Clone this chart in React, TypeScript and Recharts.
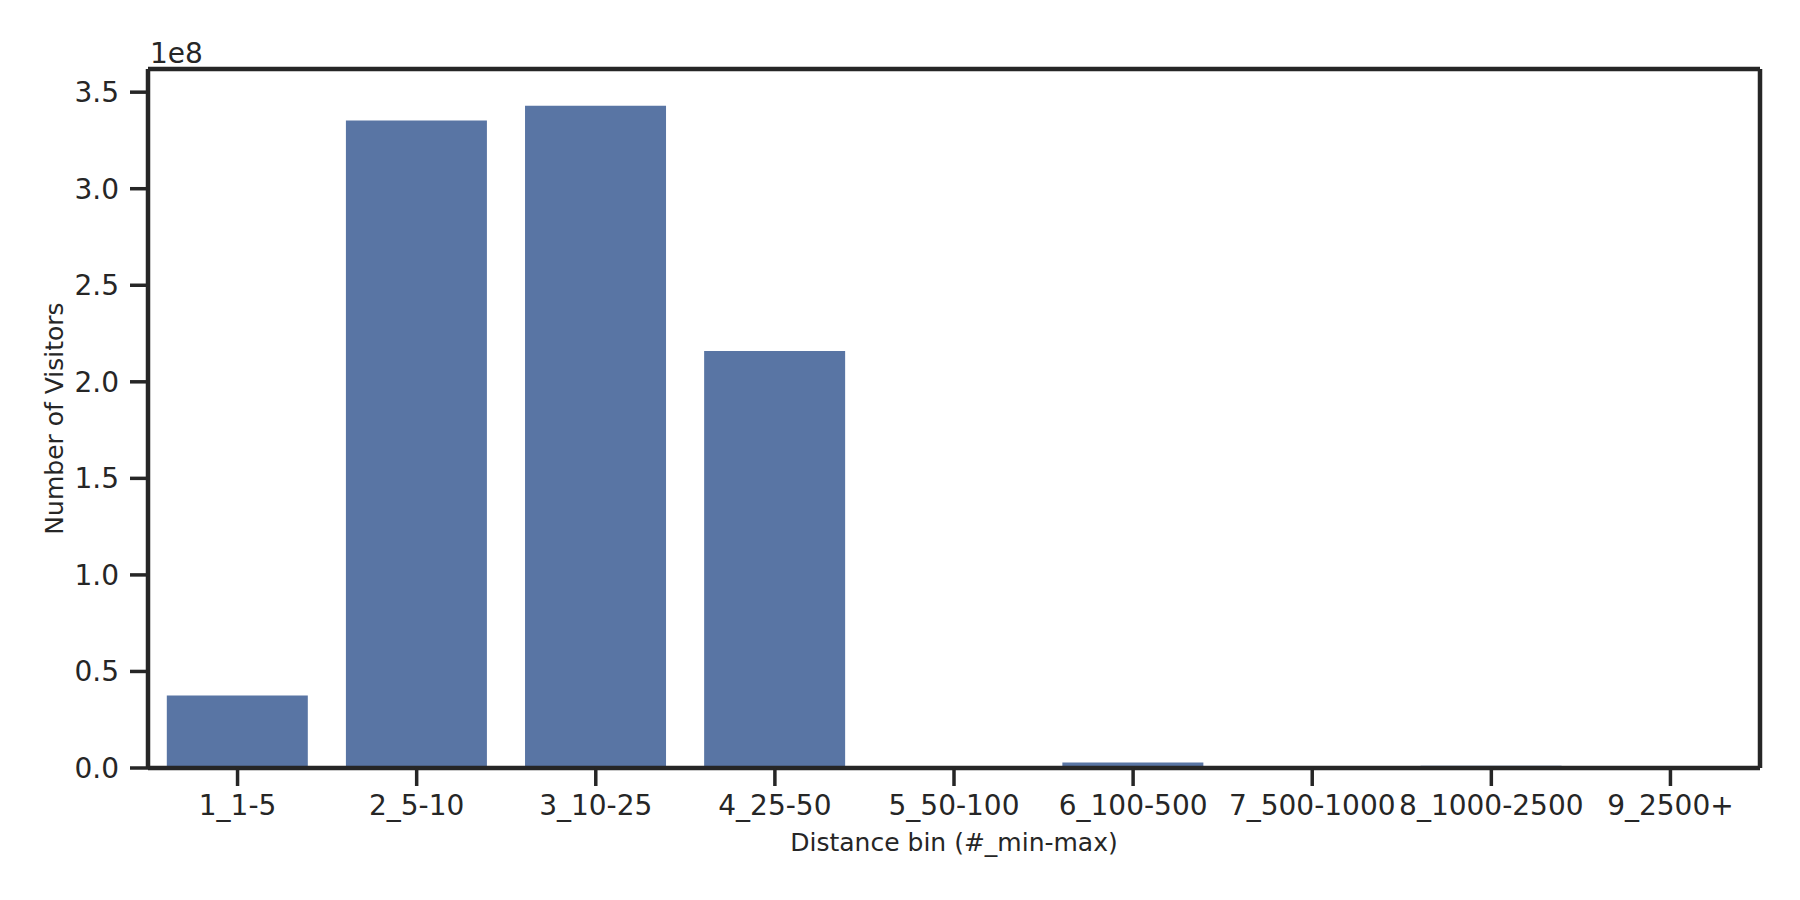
import React from 'react';
import { ComposedChart, Bar, Line, XAxis, YAxis, ReferenceLine } from 'recharts';

const DISTANCE_BINS = [
  '1_1-5', '2_5-10', '3_10-25', '4_25-50', '5_50-100',
  '6_100-500', '7_500-1000', '8_1000-2500', '9_2500+',
];
const VISITORS = [3.75e7, 3.353e8, 3.43e8, 2.16e8, 0, 2.9e6, 0, 1.2e6, 0];
const Y_TICKS = [0, 0.5e8, 1.0e8, 1.5e8, 2.0e8, 2.5e8, 3.0e8, 3.5e8];
const Y_MAX = 3.62e8;

const data = DISTANCE_BINS.map((bin, i) => ({ bin, visitors: VISITORS[i], frame: 0 }));

const FONT = '"DejaVu Sans", sans-serif';
const INK = '#262626';
const BAR = '#5975a4';
const TICK_STYLE = { fill: INK, fontSize: 28, fontFamily: FONT };
const TICK_LINE = { stroke: INK, strokeWidth: 3.5 };
const SPINE = { stroke: INK, strokeWidth: 4.5 };

export default function App() {
  return (
    <div style={{ position: 'absolute', left: 0, top: 0, background: '#fff' }}>
      <ComposedChart
        width={1800}
        height={900}
        data={data}
        margin={{ top: 69, right: 30, left: 0, bottom: 0 }}
        barCategoryGap="10.5%"
      >
        <XAxis
          dataKey="bin"
          height={132}
          tick={TICK_STYLE}
          tickLine={TICK_LINE}
          axisLine={SPINE}
          tickSize={18}
          tickMargin={9}
          interval={0}
          label={{
            content: ({ viewBox }: any) => (
              <text
                x={viewBox.x + viewBox.width / 2}
                y={viewBox.y + 83}
                textAnchor="middle"
                fill={INK}
                fontSize={25}
                fontFamily={FONT}
              >
                Distance bin (#_min-max)
              </text>
            ),
          }}
        />
        <YAxis
          width={148}
          domain={[0, Y_MAX]}
          ticks={Y_TICKS}
          allowDataOverflow
          tickFormatter={(v: number) => (v / 1e8).toFixed(1)}
          tick={TICK_STYLE}
          tickLine={TICK_LINE}
          axisLine={SPINE}
          tickSize={18}
          tickMargin={11}
          label={{
            content: ({ viewBox }: any) => {
              const cx = viewBox.x + 63;
              const cy = viewBox.y + viewBox.height / 2;
              return (
                <text
                  x={cx}
                  y={cy}
                  transform={`rotate(-90 ${cx} ${cy})`}
                  textAnchor="middle"
                  fill={INK}
                  fontSize={25}
                  fontFamily={FONT}
                >
                  Number of Visitors
                </text>
              );
            },
          }}
        />
        {/* right spine: an axis with nothing but its line */}
        <YAxis
          yAxisId="right"
          orientation="right"
          width={10}
          domain={[0, Y_MAX]}
          allowDataOverflow
          tick={false}
          tickLine={false}
          axisLine={SPINE}
        />
        <ReferenceLine
          y={Y_MAX}
          stroke={INK}
          strokeWidth={4.5}
          label={{
            content: ({ viewBox }: any) => (
              <text
                x={viewBox.x + 2}
                y={viewBox.y - 6}
                fill={INK}
                fontSize={28}
                fontFamily={FONT}
              >
                1e8
              </text>
            ),
          }}
        />
        <Bar dataKey="visitors" fill={BAR} isAnimationActive={false} />
        <Line
          yAxisId="right"
          dataKey="frame"
          stroke="none"
          dot={false}
          activeDot={false}
          legendType="none"
          isAnimationActive={false}
        />
      </ComposedChart>
    </div>
  );
}
